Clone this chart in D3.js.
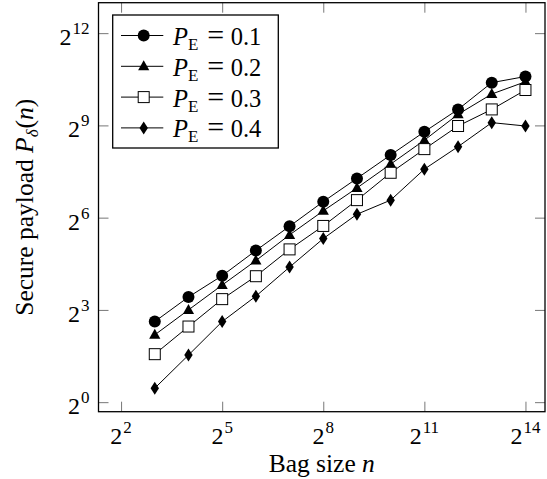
<!DOCTYPE html>
<html>
<head>
<meta charset="utf-8">
<script src="https://cdn.jsdelivr.net/npm/d3@7"></script>
<style>
  body { margin: 0; background: #fff; }
  svg { display: block; font-family: "Liberation Serif", serif; }
</style>
</head>
<body>
<svg id="chart"></svg>
<script>
// bag sizes n (2^3 .. 2^14)
let bagSizes = [8, 16, 32, 64, 128, 256, 512, 1024, 2048, 4096, 8192, 16384];

// secure payload, one array per P_E
let payload01 = [6.15, 10.7, 17.3, 30.5, 52.7, 91.8, 155, 263, 443, 734, 1342, 1541];
let payload02 = [4.56, 8.0, 14.0, 24.3, 43.4, 74.6, 125, 214, 367, 657, 1038, 1370];
let payload03 = [2.95, 5.5, 10.2, 17.1, 31.3, 53.1, 95.0, 176, 300, 505, 734, 1137];
let payload04 = [1.37, 2.89, 6.15, 10.9, 21.0, 39.9, 69.1, 95.0, 191, 317, 545, 505];

let seriesNames = ["0.1", "0.2", "0.3", "0.4"];
let seriesMarks = ["circle", "triangle", "square", "diamond"];

let xTickExp = [2, 5, 8, 11, 14];
let yTickExp = [0, 3, 6, 9, 12];

let svgWidth = 547, svgHeight = 479;
let margin = {top: 2.7, left: 98.5, bottom: 67.3, right: 2};
let width = svgWidth - margin.left - margin.right;
let height = svgHeight - margin.top - margin.bottom;

let svg = d3.select("#chart")
    .attr("width", svgWidth)
    .attr("height", svgHeight);

let g = svg.append("g")
    .attr("transform", "translate(" + margin.left + "," + margin.top + ")");

let x = d3.scaleLog().base(2)
    .domain([Math.pow(2, 1.33), Math.pow(2, 14.58)])
    .range([0, width]);

let y = d3.scaleLog().base(2)
    .domain([Math.pow(2, -0.31), Math.pow(2, 12.99)])
    .range([height, 0]);

let xTicks = xTickExp.map(function (e) { return Math.pow(2, e); });
let yTicks = yTickExp.map(function (e) { return Math.pow(2, e); });

// ticks on all four sides, pointing inwards
function tickAxis(axis, tr) {
    let a = g.append("g")
        .attr("transform", tr)
        .call(axis.tickSizeInner(-10).tickSizeOuter(0).tickFormat(""));
    a.select(".domain").remove();
    a.selectAll("line").attr("stroke", "#777").attr("stroke-width", 1);
}
tickAxis(d3.axisBottom(x).tickValues(xTicks), "translate(0," + height + ")");
tickAxis(d3.axisTop(x).tickValues(xTicks), "translate(0,0)");
tickAxis(d3.axisLeft(y).tickValues(yTicks), "translate(0,0)");
tickAxis(d3.axisRight(y).tickValues(yTicks), "translate(" + width + ",0)");

g.append("rect")
    .attr("width", width)
    .attr("height", height)
    .attr("fill", "none")
    .attr("stroke", "#000")
    .attr("stroke-width", 1.3);

// tick labels 2^k
let xl = g.selectAll(".xlab")
    .data(xTickExp)
    .enter().append("text")
    .attr("x", function (d) { return x(Math.pow(2, d)); })
    .attr("y", height + 32)
    .attr("text-anchor", "middle")
    .attr("font-size", 24);
xl.append("tspan").text("2");
xl.append("tspan").attr("font-size", 17).attr("dy", -11).attr("dx", 1).text(function (d) { return d; });

let yl = g.selectAll(".ylab")
    .data(yTickExp)
    .enter().append("text")
    .attr("x", -9)
    .attr("y", function (d) { return y(Math.pow(2, d)) + 12; })
    .attr("text-anchor", "end")
    .attr("font-size", 24);
yl.append("tspan").text("2");
yl.append("tspan").attr("font-size", 17).attr("dy", -11).attr("dx", 1).text(function (d) { return d; });

// axis titles
let xt = svg.append("text")
    .attr("x", margin.left + width / 2)
    .attr("y", 472)
    .attr("text-anchor", "middle")
    .attr("font-size", 25.5);
xt.append("tspan").text("Bag size ");
xt.append("tspan").attr("font-style", "italic").text("n");

let yt = svg.append("text")
    .attr("transform", "translate(33," + (margin.top + height / 2) + ") rotate(-90)")
    .attr("text-anchor", "middle")
    .attr("font-size", 25.5);
yt.append("tspan").text("Secure payload ");
yt.append("tspan").attr("font-style", "italic").text("P");
yt.append("tspan").attr("font-style", "italic").attr("font-size", 17).attr("dy", 5).text("δ");
yt.append("tspan").attr("dy", -5).attr("dx", 1).text("(");
yt.append("tspan").attr("font-style", "italic").text("n");
yt.append("tspan").text(")");

// markers
function drawMark(sel, kind) {
    if (kind === "circle") {
        sel.append("circle").attr("r", 6).attr("fill", "#000");
    } else if (kind === "triangle") {
        sel.append("path").attr("d", "M0,-6L5.6,4L-5.6,4Z").attr("fill", "#000");
    } else if (kind === "square") {
        sel.append("rect").attr("x", -5.5).attr("y", -5.5).attr("width", 11).attr("height", 11)
            .attr("fill", "#fff").attr("stroke", "#000").attr("stroke-width", 1);
    } else {
        sel.append("path").attr("d", "M0,-6.5L4.2,0L0,6.5L-4.2,0Z").attr("fill", "#000");
    }
}

let series = [payload01, payload02, payload03, payload04];

let line = d3.line()
    .x(function (d, i) { return x(bagSizes[i]); })
    .y(function (d) { return y(d); });

series.forEach(function (vals, s) {
    g.append("path")
        .datum(vals)
        .attr("fill", "none")
        .attr("stroke", "#000")
        .attr("stroke-width", 1)
        .attr("d", line);
    g.selectAll(".m" + s)
        .data(vals)
        .enter().append("g")
        .attr("transform", function (d, i) { return "translate(" + x(bagSizes[i]) + "," + y(d) + ")"; })
        .each(function () { drawMark(d3.select(this), seriesMarks[s]); });
});

// legend
let lg = svg.append("g").attr("transform", "translate(112.7,15)");
lg.append("rect")
    .attr("width", 165.6)
    .attr("height", 133)
    .attr("fill", "#fff")
    .attr("stroke", "#000")
    .attr("stroke-width", 1.3);

seriesNames.forEach(function (name, i) {
    let row = lg.append("g").attr("transform", "translate(0," + (20.5 + i * 30.8) + ")");
    row.append("line")
        .attr("x1", 8.3).attr("x2", 50.6)
        .attr("stroke", "#000").attr("stroke-width", 1);
    let m = row.append("g").attr("transform", "translate(31,0)");
    drawMark(m, seriesMarks[i]);
    let t = row.append("text")
        .attr("x", 60.3)
        .attr("y", 9.5)
        .attr("font-size", 24.5);
    t.append("tspan").attr("font-style", "italic").text("P");
    t.append("tspan").attr("font-size", 17).attr("dy", 5).text("E");
    row.append("text")
        .attr("x", 103)
        .attr("y", 9.5)
        .attr("text-anchor", "middle")
        .attr("font-size", 30)
        .text("=");
    row.append("text")
        .attr("x", 118)
        .attr("y", 9.5)
        .attr("font-size", 24.5)
        .text(name);
});
</script>
</body>
</html>
